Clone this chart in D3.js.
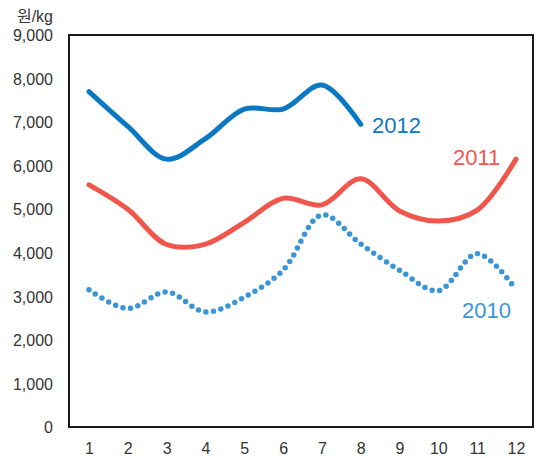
<!DOCTYPE html>
<html>
<head>
<meta charset="utf-8">
<script src="https://cdn.jsdelivr.net/npm/d3@7"></script>
<style>
  body { margin: 0; background: #fff; }
  svg { display: block; font-family: "Liberation Sans", "Noto Sans CJK KR", sans-serif; }
  .tick text { fill: #333; font-size: 16px; }
</style>
</head>
<body>
<svg id="chart" width="541" height="458"></svg>
<script>
// months on x axis
var months = [1, 2, 3, 4, 5, 6, 7, 8, 9, 10, 11, 12];
var yTicks = [0, 1000, 2000, 3000, 4000, 5000, 6000, 7000, 8000, 9000];

// 원/kg by month
var values2010 = [3150, 2720, 3100, 2640, 2980, 3600, 4870, 4200, 3600, 3130, 3980, 3160];
var values2011 = [5560, 5000, 4190, 4200, 4700, 5250, 5100, 5700, 4960, 4730, 4980, 6150];
var values2012 = [7700, 6900, 6150, 6620, 7300, 7300, 7850, 6950];

var series = [
    { name: "2010", values: values2010, color: "#3a95d6", dotted: true,  lx: 462, ly: 318 },
    { name: "2011", values: values2011, color: "#f0564c", dotted: false, lx: 453, ly: 165 },
    { name: "2012", values: values2012, color: "#0a78c2", dotted: false, lx: 372, ly: 133 }
];

var margin = { top: 35, right: 8, bottom: 31, left: 69 },
    svg = d3.select("#chart"),
    width = +svg.attr("width") - margin.left - margin.right,
    height = +svg.attr("height") - margin.top - margin.bottom;

var g = svg.append("g").attr("transform", "translate(" + margin.left + "," + margin.top + ")");

var x = d3.scaleLinear().domain([1, 12]).range([20, width - 17]);
var y = d3.scaleLinear().domain([0, 9000]).range([height, 0]);

// y axis labels
g.append("g")
    .call(d3.axisLeft(y).tickValues(yTicks).tickSize(0).tickPadding(16)
        .tickFormat(d3.format(",")))
    .call(function (a) { a.select(".domain").remove(); })
    .selectAll("text").attr("dy", "0.36em");

// x axis labels
g.append("g")
    .attr("transform", "translate(0," + height + ")")
    .call(d3.axisBottom(x).tickValues(months).tickSize(0).tickPadding(16)
        .tickFormat(d3.format("d")))
    .call(function (a) { a.select(".domain").remove(); });

svg.append("text")
    .attr("x", 53).attr("y", 22)
    .attr("text-anchor", "end")
    .style("font-size", "16px").style("fill", "#333")
    .text("원/kg");

var line = d3.line()
    .x(function (d, i) { return x(months[i]); })
    .y(function (d) { return y(d); })
    .curve(d3.curveCatmullRom.alpha(0.5));

g.selectAll(".series")
    .data(series)
  .enter().append("path")
    .attr("class", "series")
    .attr("d", function (d) { return line(d.values); })
    .attr("fill", "none")
    .attr("stroke", function (d) { return d.color; })
    .attr("stroke-width", function (d) { return d.dotted ? 5.5 : 5; })
    .attr("stroke-linecap", "round")
    .attr("stroke-linejoin", "round")
    .attr("stroke-dasharray", function (d) {
        if (!d.dotted) return null;
        // spread the dots so one lands on each end
        var len = this.getTotalLength(), n = Math.round(len / 7.7);
        return "0 " + (len / n);
    });

svg.selectAll(".label")
    .data(series)
  .enter().append("text")
    .attr("class", "label")
    .attr("x", function (d) { return d.lx; })
    .attr("y", function (d) { return d.ly; })
    .style("font-size", "22px")
    .style("fill", function (d) { return d.color; })
    .text(function (d) { return d.name; });

// frame
g.append("rect")
    .attr("width", width).attr("height", height)
    .attr("fill", "none").attr("stroke", "#1a1a1a").attr("stroke-width", 2);
</script>
</body>
</html>
